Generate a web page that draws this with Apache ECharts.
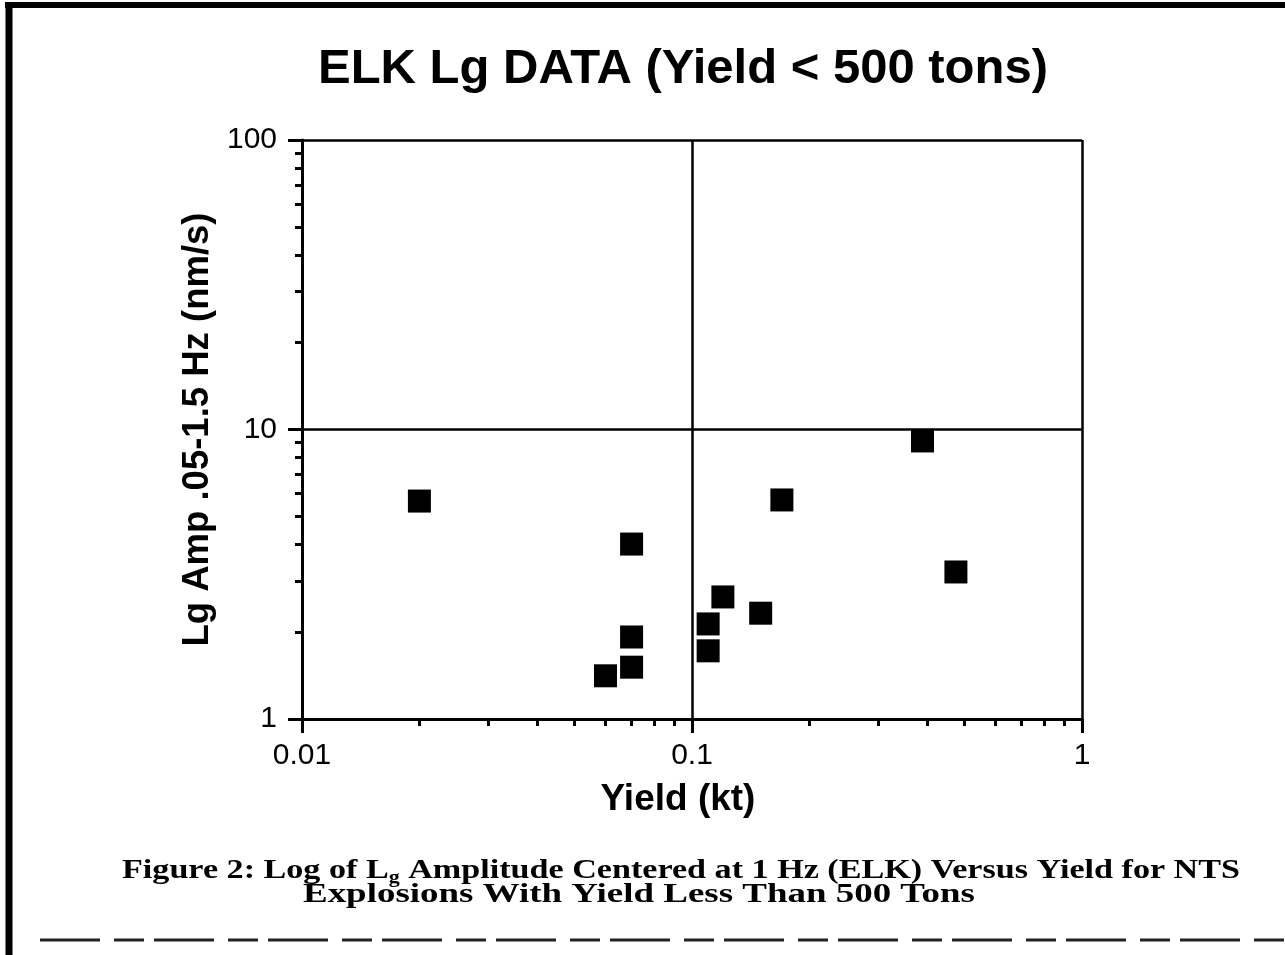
<!DOCTYPE html>
<html><head><meta charset="utf-8">
<script src="https://cdn.jsdelivr.net/npm/echarts@6/dist/echarts.min.js"></script>
<style>html,body{margin:0;padding:0;background:#fff}#c{width:1285px;height:955px}</style>
</head><body><div id="c"></div>
<script>
// ---- data ----
const titleText = 'ELK Lg DATA (Yield < 500 tons)';
const xName = 'Yield (kt)';
const yName = 'Lg Amp .05-1.5 Hz (nm/s)';
const yieldKt = [0.02, 0.07, 0.07, 0.07, 0.06, 0.11, 0.11, 0.12, 0.15, 0.17, 0.39, 0.475];
const lgAmp   = [5.66, 4.02, 1.92, 1.51, 1.41, 2.13, 1.72, 2.64, 2.32, 5.71, 9.13, 3.22];
const xMajorTicks = [0.01, 0.1, 1];
const xMinorTicks = [0.02, 0.03, 0.04, 0.05, 0.06, 0.07, 0.08, 0.09, 0.2, 0.3, 0.4, 0.5, 0.6, 0.7, 0.8, 0.9];
const yMajorTicks = [1, 10, 100];
const yMinorTicks = [2, 3, 4, 5, 6, 7, 8, 9, 20, 30, 40, 50, 60, 70, 80, 90];
const captionA = 'Figure 2: Log of L';
const captionSub = 'g';
const captionB = ' Amplitude Centered at 1 Hz (ELK) Versus Yield for NTS';
const captionLine2 = 'Explosions With Yield Less Than 500 Tons';

// ---- caption width fitting ----
const SERIF = '"Liberation Serif", "DejaVu Serif", serif';
const CAP = 28, SUB = 18;
const ctx = document.createElement('canvas').getContext('2d');
function w(t, size) { ctx.font = 'bold ' + size + 'px ' + SERIF; return ctx.measureText(t).width; }
const line1W = w(captionA, CAP) + w(captionSub, SUB) + w(captionB, CAP);
const line2W = w(captionLine2, CAP);
const s1 = 1118 / line1W;
const s2 = 672 / line2W;

const SANS = 'Arial, "Liberation Sans", Helvetica, sans-serif';
const chart = echarts.init(document.getElementById('c'));
const axisLine = { show: true, lineStyle: { color: '#000', width: 3 } };
const common = { type: 'log', logBase: 10 };

chart.setOption({
  backgroundColor: '#fff',
  animation: false,
  title: {
    text: titleText, left: 678, top: 40, textAlign: 'center',
    textStyle: { fontFamily: SANS, fontWeight: 'bold', fontSize: 49, color: '#000' }
  },
  grid: { left: 302, right: 203, top: 140, bottom: 236, containLabel: false },
  xAxis: [
    Object.assign({}, common, {
      min: 0.01, max: 1, position: 'bottom',
      name: xName, nameLocation: 'middle', nameGap: 62,
      nameTextStyle: { fontFamily: SANS, fontWeight: 'bold', fontSize: 37, color: '#000', padding: [0, 28, 0, 0] },
      axisLine: axisLine,
      axisTick: { show: true, inside: false, length: 7, customValues: xMinorTicks, lineStyle: { color: '#000', width: 3 } },
      axisLabel: { show: true, margin: 22, fontFamily: SANS, fontSize: 30, color: '#000', customValues: xMajorTicks },
      splitLine: { show: false }
    }),
    Object.assign({}, common, {
      min: 0.01, max: 1, position: 'bottom',
      axisLine: { show: false },
      axisTick: { show: true, inside: false, length: 14, customValues: xMajorTicks, lineStyle: { color: '#000', width: 3 } },
      axisLabel: { show: false },
      splitLine: { show: true, lineStyle: { color: '#000', width: 2.5 } }
    })
  ],
  yAxis: [
    Object.assign({}, common, {
      min: 1, max: 100, position: 'left',
      name: yName, nameLocation: 'middle', nameGap: 86, nameRotate: 90,
      nameTextStyle: { fontFamily: SANS, fontWeight: 'bold', fontSize: 36.5, color: '#000' },
      axisLine: axisLine,
      axisTick: { show: true, inside: false, length: 7, customValues: yMinorTicks, lineStyle: { color: '#000', width: 3 } },
      axisLabel: { show: true, margin: 25, fontFamily: SANS, fontSize: 30, color: '#000', customValues: yMajorTicks },
      splitLine: { show: false }
    }),
    Object.assign({}, common, {
      min: 1, max: 100, position: 'left',
      axisLine: { show: false },
      axisTick: { show: true, inside: false, length: 14, customValues: yMajorTicks, lineStyle: { color: '#000', width: 3 } },
      axisLabel: { show: false },
      splitLine: { show: true, lineStyle: { color: '#000', width: 2.5 } }
    })
  ],
  series: [{
    type: 'scatter', xAxisIndex: 0, yAxisIndex: 0,
    symbol: 'rect', symbolSize: 23,
    itemStyle: { color: '#000', opacity: 1 },
    data: yieldKt.map((x, i) => [x, lgAmp[i]]),
    z: 5
  }],
  graphic: [
    { type: 'line', shape: { x1: 5, y1: 5, x2: 1285, y2: 5 }, style: { stroke: '#000', lineWidth: 6 } },
    { type: 'line', shape: { x1: 9, y1: 3, x2: 9, y2: 955 }, style: { stroke: '#000', lineWidth: 7 } },
    { type: 'line', shape: { x1: 40, y1: 940, x2: 1285, y2: 940 }, style: { stroke: '#222', lineWidth: 3, lineDash: [60, 14, 30, 10] } },
    {
      type: 'text', x: 122, y: 872, scaleX: s1, originX: 0, originY: 0,
      style: {
        text: '{n|' + captionA + '}{s|' + captionSub + '}{n|' + captionB + '}',
        align: 'left', verticalAlign: 'middle',
        rich: {
          n: { fontFamily: SERIF, fontWeight: 'bold', fontSize: CAP, lineHeight: 30, fill: '#000', verticalAlign: 'top' },
          s: { fontFamily: SERIF, fontWeight: 'bold', fontSize: SUB, lineHeight: 18, fill: '#000', verticalAlign: 'bottom' }
        }
      }
    },
    {
      type: 'text', x: 303, y: 895, scaleX: s2, originX: 0, originY: 0,
      style: {
        text: captionLine2, align: 'left', verticalAlign: 'middle',
        fontFamily: SERIF, fontWeight: 'bold', fontSize: CAP, fill: '#000'
      }
    }
  ]
});
</script>
</body></html>
